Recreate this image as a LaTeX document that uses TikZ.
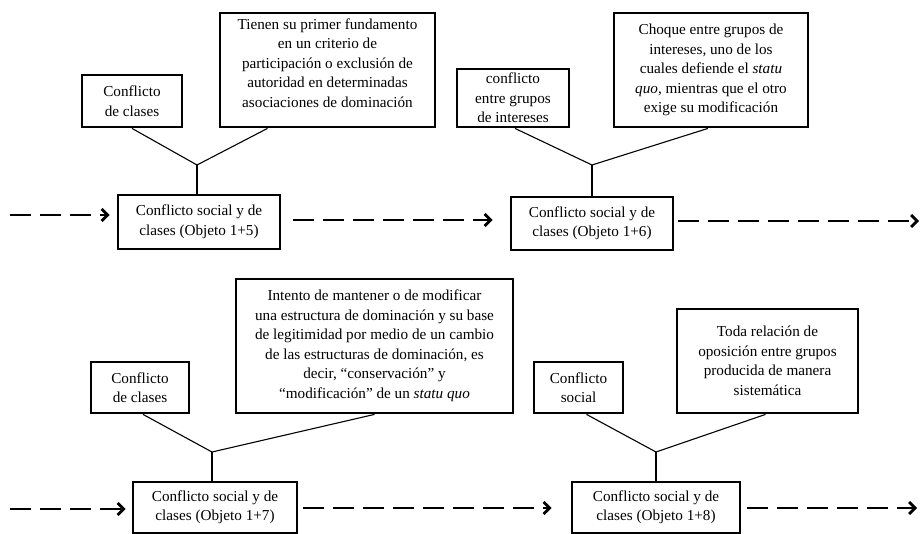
\documentclass[tikz,border=0pt]{standalone}
\usepackage{fontspec}
\setmainfont{Liberation Serif}
\usetikzlibrary{arrows.meta}
\tikzset{
  txt/.style={align=center, inner sep=2pt, font=\fontsize{15.2}{19.5}\selectfont},
  box/.style={txt, draw, line width=2.8pt, rectangle},
  link/.style={line width=1.1pt},
  flow/.style={line width=2.8pt, dash pattern=on 21pt off 9pt,
    -{Straight Barb[length=6pt,width=12pt,line width=2.8pt]}},
}
\begin{document}
\begin{tikzpicture}[x=1pt,y=-1pt]
\useasboundingbox (0,0) rectangle (920,534);
% top row
\node[box, minimum width=100pt, minimum height=52pt] (A1) at (132,101) {Conflicto\\de clases};
\node[box, minimum width=215pt, minimum height=114pt] (B1) at (327.5,70) {};
\node[txt] (B1t) at (327.5,63) {Tienen su primer fundamento\\en un criterio de\\participación o exclusión de\\autoridad en determinadas\\asociaciones de dominación};
\node[box, minimum width=162pt, minimum height=54pt] (C1) at (199,222) {Conflicto social y de\\clases (Objeto 1+5)};
\node[box, minimum width=112pt, minimum height=58pt] (A2) at (513,98) {conflicto\\entre grupos\\de intereses};
\node[box, minimum width=194pt, minimum height=114pt] (B2) at (711,70) {Choque entre grupos de\\intereses, uno de los\\cuales defiende el \textit{statu}\\\textit{quo}, mientras que el otro\\exige su modificación};
\node[box, minimum width=162pt, minimum height=53pt] (C2) at (592,223.5) {Conflicto social y de\\clases (Objeto 1+6)};
% bottom row
\node[box, minimum width=98pt, minimum height=51pt] (A3) at (140,387.5) {Conflicto\\de clases};
\node[box, minimum width=277pt, minimum height=134pt] (B3) at (374.5,346) {Intento de mantener o de modificar\\una estructura de dominación y su base\\de legitimidad por medio de un cambio\\de las estructuras de dominación, es\\decir, “conservación” y\\“modificación” de un \textit{statu quo}};
\node[box, minimum width=164pt, minimum height=51pt] (C3) at (215,507.5) {Conflicto social y de\\clases (Objeto 1+7)};
\node[box, minimum width=89pt, minimum height=51pt] (A4) at (578.5,387.5) {Conflicto\\social};
\node[box, minimum width=181pt, minimum height=104pt] (B4) at (767.5,361) {Toda relación de\\oposición entre grupos\\producida de manera\\sistemática};
\node[box, minimum width=168pt, minimum height=51pt] (C4) at (656,507.5) {Conflicto social y de\\clases (Objeto 1+8)};
% junctions
\coordinate (J1) at (197,165);
\coordinate (J2) at (592,165);
\coordinate (J3) at (212,452);
\coordinate (J4) at (656,452);
\draw[link] (A1.south) -- (J1) -- ([xshift=-60pt]B1.south);
\draw[link] (J1) -- (J1 |- C1.north);
\draw[link] ([xshift=2pt]A2.south) -- (J2) -- ([xshift=-3pt]B2.south);
\draw[link] (J2) -- (J2 |- C2.north);
\draw[link] ([xshift=3pt]A3.south) -- (J3) -- (B3.south);
\draw[link] (J3) -- (J3 |- C3.north);
\draw[link] ([xshift=8pt]A4.south) -- (J4) -- ([xshift=-2pt]B4.south);
\draw[link] (J4) -- (J4 |- C4.north);
% flow arrows
\coordinate (s1) at (10,215);
\coordinate (e2) at (919,221);
\coordinate (s3) at (10,509);
\coordinate (e4) at (917,508);
\draw[flow, shorten >=7pt] (s1) -- (C1.west |- s1);
\draw[flow, shorten <=12pt, shorten >=17pt] (C1.east |- 0,220) -- (C2.west |- 0,220);
\draw[flow, shorten <=4pt] (C2.east |- e2) -- (e2);
\draw[flow, shorten >=6pt] (s3) -- (C3.west |- s3);
\draw[flow, shorten <=5pt, shorten >=19pt] (C3.east |- 0,508) -- (C4.west |- 0,508);
\draw[flow, shorten <=6pt] (C4.east |- e4) -- (e4);
\end{tikzpicture}
\end{document}
